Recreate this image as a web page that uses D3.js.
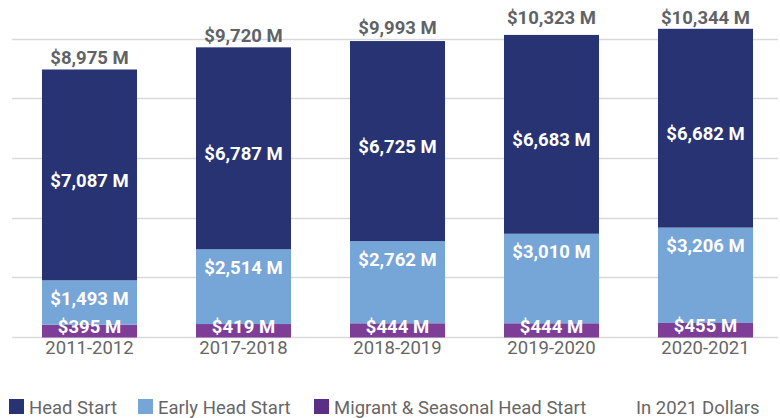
<!DOCTYPE html>
<html>
<head>
<meta charset="utf-8">
<script src="https://cdn.jsdelivr.net/npm/d3@7"></script>
<style>
  html, body { margin: 0; padding: 0; background: #fff; }
  svg { display: block; font-family: Roboto, "Noto Sans", sans-serif; }
</style>
</head>
<body>
<svg id="chart" width="780" height="418"></svg>
<script>
const categories = ["2011-2012", "2017-2018", "2018-2019", "2019-2020", "2020-2021"];
const migrant = [395, 419, 444, 444, 455];
const earlyHeadStart = [1493, 2514, 2762, 3010, 3206];
const headStart = [7087, 6787, 6725, 6683, 6682];
const totals = [8975, 9720, 9993, 10323, 10344];
const gridTicks = [0, 2000, 4000, 6000, 8000, 10000];
const seriesNames = ["Head Start", "Early Head Start", "Migrant & Seasonal Head Start"];
const noteText = "In 2021 Dollars";

const colors = { hs: "#283373", ehs: "#76a5d7", mig: "#7e3e98", migLegend: "#5c2f87" };
const FS = 18.5;

const svg = d3.select("#chart");
const x = d3.scaleBand().domain(categories).range([12.5, 782.5]).paddingInner(0.383).paddingOuter(0.1915);
const y = d3.scaleLinear().domain([0, 10000]).range([336.5, 39]);

// gridlines
svg.append("g").selectAll("line").data(gridTicks).join("line")
  .attr("x1", 12).attr("x2", 778)
  .attr("y1", d => Math.round(y(d)) + 0.5).attr("y2", d => Math.round(y(d)) + 0.5)
  .attr("stroke", "#d9d9d9").attr("stroke-width", 1.5);

const rows = categories.map((c, i) => ({ c, mig: migrant[i], ehs: earlyHeadStart[i], hs: headStart[i], total: totals[i] }));
const stack = d3.stack().keys(["mig", "ehs", "hs"])(rows);
const fill = { mig: colors.mig, ehs: colors.ehs, hs: colors.hs };

const fmt = v => "$" + d3.format(",")(v) + " M";

stack.forEach(layer => {
  const g = svg.append("g");
  g.selectAll("rect").data(layer).join("rect")
    .attr("x", d => x(d.data.c))
    .attr("width", x.bandwidth())
    .attr("y", d => y(d[1]))
    .attr("height", d => y(d[0]) - y(d[1]) + (layer.key === "mig" ? 1 : 0))
    .attr("fill", fill[layer.key]);
});

// segment labels
stack.forEach(layer => {
  svg.append("g").selectAll("text").data(layer).join("text")
    .attr("x", d => x(d.data.c) + x.bandwidth() / 2)
    .attr("y", d => {
      const top = y(d[1]), bot = y(d[0]);
      if (layer.key === "mig") return (top + bot) / 2 - 4;
      if (layer.key === "ehs") return top + 18;
      return (top + bot) / 2 + 5;
    })
    .attr("dy", "0.36em")
    .attr("text-anchor", "middle")
    .attr("fill", "#ffffff")
    .attr("font-weight", 700)
    .attr("font-size", FS)
    .text(d => fmt(d.data[layer.key]));
});

// totals
svg.append("g").selectAll("text").data(rows).join("text")
  .attr("x", d => x(d.c) + x.bandwidth() / 2)
  .attr("y", d => y(d.total) - 5)
  .attr("text-anchor", "middle")
  .attr("fill", "#5f6368")
  .attr("font-weight", 700)
  .attr("font-size", FS)
  .text(d => fmt(d.total));

// x axis labels
const xAxis = d3.axisBottom(x).tickSize(0).tickPadding(0);
const ax = svg.append("g").attr("transform", "translate(0,341)").call(xAxis);
ax.select(".domain").remove();
ax.selectAll("text")
  .attr("font-size", FS).attr("fill", "#666666")
  .attr("font-family", "Roboto, sans-serif")
  .attr("dy", "0.72em");

// legend
const legendItems = [
  { name: seriesNames[0], color: colors.hs, x: 9 },
  { name: seriesNames[1], color: colors.ehs, x: 138 },
  { name: seriesNames[2], color: colors.migLegend, x: 314 }
];
const lg = svg.append("g");
legendItems.forEach(it => {
  lg.append("rect").attr("x", it.x).attr("y", 399).attr("width", 15).attr("height", 15).attr("fill", it.color);
  lg.append("text").attr("x", it.x + 20).attr("y", 413.5)
    .attr("font-size", FS).attr("fill", "#666666").text(it.name);
});
lg.append("text").attr("x", 636).attr("y", 413.5)
  .attr("font-size", FS).attr("fill", "#666666").text(noteText);
</script>
</body>
</html>
